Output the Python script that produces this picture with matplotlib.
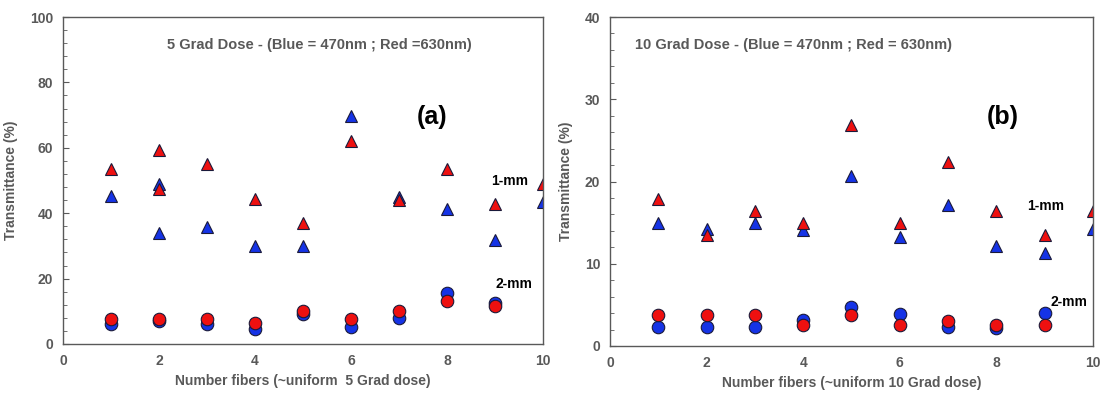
import matplotlib
matplotlib.use("Agg")
import matplotlib.pyplot as plt
from matplotlib.ticker import MultipleLocator

plt.rcParams['font.family'] = ['Liberation Sans', 'DejaVu Sans']
plt.rcParams['font.weight'] = 'bold'

# ---- panel (a): 5 Grad dose ----
a_tri_blue_x = [1, 2, 2, 3, 4, 5, 6, 7, 8, 9, 10]
a_tri_blue_y = [45.3, 48.9, 33.9, 35.7, 30.1, 30.1, 69.7, 44.9, 41.3, 31.9, 43.4]
a_tri_red_x = [1, 2, 2, 3, 4, 5, 6, 7, 8, 9, 10]
a_tri_red_y = [53.4, 59.2, 47.3, 54.9, 44.2, 36.9, 62.2, 44.1, 53.4, 42.9, 48.8]
a_circ_x = [1, 2, 3, 4, 5, 6, 7, 8, 9]
a_circ_blue_y = [6.1, 6.9, 6.1, 4.6, 9.2, 5.3, 7.9, 15.6, 12.6]
a_circ_red_y = [7.7, 7.7, 7.7, 6.3, 10.2, 7.7, 10.2, 13.0, 11.5]

# ---- panel (b): 10 Grad dose ----
b_tri_x = [1, 2, 3, 4, 5, 6, 7, 8, 9, 10]
b_tri_blue_y = [15.0, 14.2, 15.0, 14.1, 20.7, 13.2, 17.1, 12.2, 11.3, 14.2]
b_tri_red_y = [17.9, 13.5, 16.4, 14.9, 26.9, 14.9, 22.4, 16.4, 13.5, 16.4]
b_circ_x = [1, 2, 3, 4, 5, 6, 7, 8, 9]
b_circ_blue_y = [2.3, 2.3, 2.3, 3.2, 4.7, 3.9, 2.3, 2.2, 4.0]
b_circ_red_y = [3.8, 3.8, 3.8, 2.5, 3.8, 2.5, 3.1, 2.5, 2.6]

BLUE = '#1533e6'
RED = '#ee1010'
GREY = '#595959'

fig = plt.figure(figsize=(11.01, 3.93), dpi=100)
ax1 = fig.add_axes([0.0572, 0.1247, 0.436, 0.832])
ax2 = fig.add_axes([0.554, 0.1196, 0.4387, 0.8371])


def draw(ax, tri_bx, tri_by, tri_rx, tri_ry, cx, cby, cry):
    kw = dict(linestyle='none', markeredgecolor='#1a1a3a', markeredgewidth=0.8)
    ax.plot(tri_bx, tri_by, marker='^', markersize=8.5, color=BLUE, **kw)
    ax.plot(tri_rx, tri_ry, marker='^', markersize=8.5, color=RED, **kw)
    ax.plot(cx, cby, marker='o', markersize=9, color=BLUE, **kw)
    ax.plot(cx, cry, marker='o', markersize=9, color=RED, **kw)


draw(ax1, a_tri_blue_x, a_tri_blue_y, a_tri_red_x, a_tri_red_y,
     a_circ_x, a_circ_blue_y, a_circ_red_y)
draw(ax2, b_tri_x, b_tri_blue_y, b_tri_x, b_tri_red_y,
     b_circ_x, b_circ_blue_y, b_circ_red_y)

for ax, ymax, ymaj, ymin, xl, ylx, xly in [
        (ax1, 100, 20, 4, 'Number fibers (~uniform  5 Grad dose)', -0.094, -0.113),
        (ax2, 40, 10, 2, 'Number fibers (~uniform 10 Grad dose)', -0.077, -0.112)]:
    ax.set_xlim(0, 10)
    ax.set_ylim(0, ymax)
    ax.xaxis.set_major_locator(MultipleLocator(2))
    ax.yaxis.set_major_locator(MultipleLocator(ymaj))
    ax.yaxis.set_minor_locator(MultipleLocator(ymin))
    ax.tick_params(axis='y', which='both', direction='in', colors=GREY,
                   labelsize=10, pad=7)
    ax.tick_params(axis='y', which='major', length=4)
    ax.tick_params(axis='y', which='minor', length=3)
    ax.tick_params(axis='x', length=0, colors=GREY, labelsize=10, pad=7)
    for s in ax.spines.values():
        s.set_color(GREY)
        s.set_linewidth(1.0)
    ax.set_xlabel(xl, color=GREY, fontsize=10, fontweight='bold', va='center')
    ax.set_ylabel('Transmittance (%)', color=GREY, fontsize=10, fontweight='bold')
    ax.yaxis.set_label_coords(ylx, 0.5)
    ax.xaxis.set_label_coords(0.5, xly)

ax1.text(5.35, 91.4, '5 Grad Dose - (Blue = 470nm ; Red =630nm)',
         ha='center', va='center', color=GREY, fontsize=10.5)
ax1.text(7.69, 69.3, '(a)', ha='center', va='center', color='black', fontsize=18)
ax1.text(9.31, 50, '1-mm', ha='center', va='center', color='black', fontsize=10)
ax1.text(9.4, 18.4, '2-mm', ha='center', va='center', color='black', fontsize=10)

ax2.text(3.8, 36.6, '10 Grad Dose - (Blue = 470nm ; Red = 630nm)',
         ha='center', va='center', color=GREY, fontsize=10.5)
ax2.text(8.14, 27.8, '(b)', ha='center', va='center', color='black', fontsize=18)
ax2.text(9.03, 17.0, '1-mm', ha='center', va='center', color='black', fontsize=10)
ax2.text(9.5, 5.3, '2-mm', ha='center', va='center', color='black', fontsize=10)

fig.savefig('out.png', dpi=100)
